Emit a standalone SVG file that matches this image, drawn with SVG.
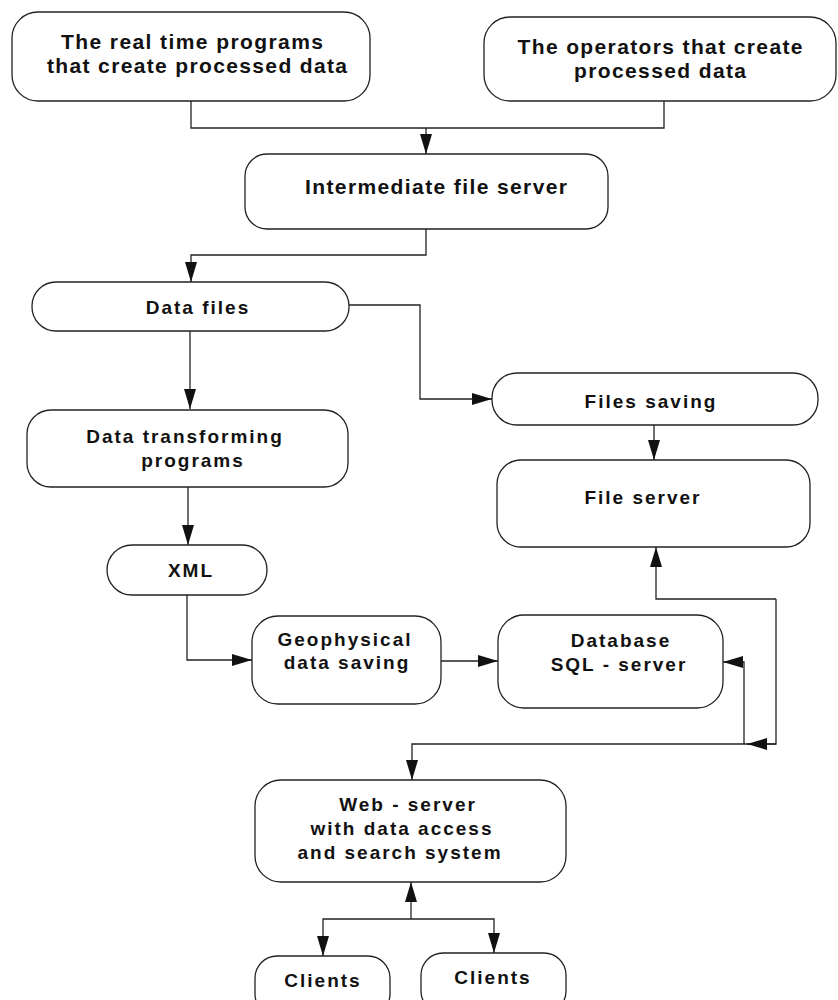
<svg xmlns="http://www.w3.org/2000/svg" width="838" height="1000" viewBox="0 0 838 1000">
<defs>
<marker id="arr" markerUnits="userSpaceOnUse" markerWidth="20" markerHeight="12" refX="20" refY="6" orient="auto">
<path d="M0,0 L20,6 L0,12 z" fill="#111"/>
</marker>
<style>
.box{fill:#fff;stroke:#222;stroke-width:1.3}
.ln{fill:none;stroke:#222;stroke-width:1.3}
.t{font-family:"Liberation Sans",Arial,sans-serif;font-weight:bold;font-size:19px;letter-spacing:2px;fill:#111;text-anchor:middle}
.n{font-family:"Liberation Sans",Arial,sans-serif;font-weight:bold;font-size:21px;fill:#111;text-anchor:middle}
</style>
</defs>
<rect width="838" height="1000" fill="#fff"/>
<g id="connectors">
<path class="ln" d="M191,101 V128 H664 V101"/>
<path class="ln" d="M426,128 V154" marker-end="url(#arr)"/>
<path class="ln" d="M426,229 V255 H191 V282" marker-end="url(#arr)"/>
<path class="ln" d="M190,331 V409" marker-end="url(#arr)"/>
<path class="ln" d="M349,305 H420 V399 H492" marker-end="url(#arr)"/>
<path class="ln" d="M654,425 V460" marker-end="url(#arr)"/>
<path class="ln" d="M188,487 V545" marker-end="url(#arr)"/>
<path class="ln" d="M187,595 V660 H252" marker-end="url(#arr)"/>
<path class="ln" d="M441,661 H498" marker-end="url(#arr)"/>
<path class="ln" d="M776,599 H656 V547" marker-end="url(#arr)"/>
<path class="ln" d="M776,599 V744 H412 V780" marker-end="url(#arr)"/>
<path class="ln" d="M776,744 H747" marker-end="url(#arr)"/>
<path class="ln" d="M744,744 V662 H723" marker-end="url(#arr)"/>
<path class="ln" d="M411,919 V882" marker-end="url(#arr)"/>
<path class="ln" d="M411,919 H323 V956" marker-end="url(#arr)"/>
<path class="ln" d="M411,919 H494 V953" marker-end="url(#arr)"/>
</g>
<g id="n-realtime">
<rect class="box" x="12" y="12" width="358" height="89" rx="26"/>
<text class="n" x="192" y="49" textLength="262">The real time programs</text>
<text class="n" x="197" y="73" textLength="300">that create processed data</text>
</g>
<g id="n-operators">
<rect class="box" x="484" y="17" width="352" height="84" rx="26"/>
<text class="n" x="660" y="54" textLength="285">The operators that create</text>
<text class="n" x="660" y="78" textLength="172">processed data</text>
</g>
<g id="n-intermediate">
<rect class="box" x="245" y="154" width="363" height="75" rx="22"/>
<text class="n" x="436" y="194" textLength="262">Intermediate file server</text>
</g>
<g id="n-datafiles">
<rect class="box" x="32" y="282" width="317" height="49" rx="24"/>
<text class="t" x="198" y="314">Data files</text>
</g>
<g id="n-filessaving">
<rect class="box" x="492" y="373" width="326" height="52" rx="25"/>
<text class="t" x="651" y="408">Files saving</text>
</g>
<g id="n-fileserver">
<rect class="box" x="497" y="460" width="313" height="87" rx="24"/>
<text class="t" x="643" y="504">File server</text>
</g>
<g id="n-transform">
<rect class="box" x="27" y="410" width="321" height="77" rx="24"/>
<text class="t" x="185" y="443">Data transforming</text>
<text class="t" x="193" y="467">programs</text>
</g>
<g id="n-xml">
<rect class="box" x="107" y="545" width="160" height="50" rx="25"/>
<text class="t" x="191" y="577">XML</text>
</g>
<g id="n-geo">
<rect class="box" x="252" y="616" width="189" height="88" rx="26"/>
<text class="t" x="345" y="646">Geophysical</text>
<text class="t" x="347" y="669">data saving</text>
</g>
<g id="n-db">
<rect class="box" x="498" y="615" width="225" height="93" rx="26"/>
<text class="t" x="621" y="647">Database</text>
<text class="t" x="619" y="671">SQL - server</text>
</g>
<g id="n-web">
<rect class="box" x="255" y="780" width="311" height="102" rx="26"/>
<text class="t" x="408" y="811">Web - server</text>
<text class="t" x="402" y="835">with data access</text>
<text class="t" x="400" y="859">and search system</text>
</g>
<g id="n-clients1">
<rect class="box" x="255" y="956" width="135" height="60" rx="22"/>
<text class="t" x="323" y="987">Clients</text>
</g>
<g id="n-clients2">
<rect class="box" x="421" y="953" width="145" height="60" rx="22"/>
<text class="t" x="493" y="984">Clients</text>
</g>
</svg>
